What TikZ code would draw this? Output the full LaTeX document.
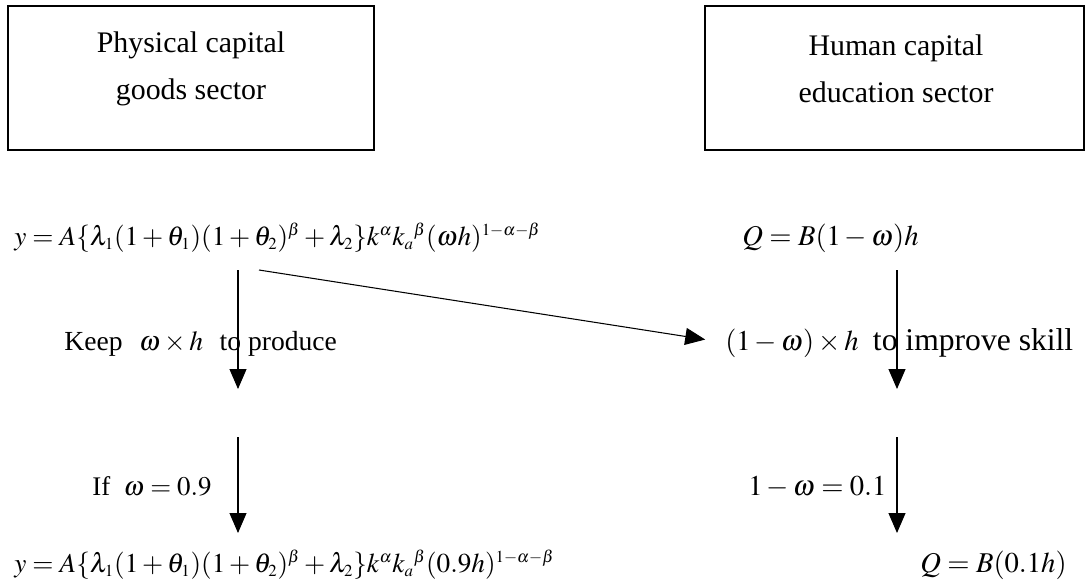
\documentclass[tikz,border=0pt]{standalone}
\usepackage{mathptmx}
\usepackage{fontspec}
\setmainfont{Liberation Serif}
\usetikzlibrary{arrows.meta}
\DeclareMathSizes{15.5}{15.5}{9.6}{7.2}

\begin{document}
\begin{tikzpicture}[x=0.02cm, y=-0.02cm,
		sector/.style={draw, line width=1pt, minimum width=7.32cm, minimum height=2.88cm},
		sectorlbl/.style={align=center, font=\fontsize{17}{27}\selectfont},
		eqn/.style={anchor=base west, inner sep=0pt, font=\fontsize{16.3}{20}\selectfont},
		longeqn/.style={eqn, font=\fontsize{15.5}{19}\selectfont},
		arr/.style={-{Triangle[length=0.4cm, width=0.34cm]}, line width=0.6pt}
		]
		\useasboundingbox (0,0) rectangle (1086,586);

		% Sector boxes
		\node[sector] (phys) at (191,78) {};
		\node[sectorlbl] (physlbl) at (191,69) {Physical capital\\goods sector};
		\node[sector, minimum width=7.58cm] (human) at (894.5,78) {};
		\node[sectorlbl] (humanlbl) at (896,69) {Human capital\\education sector};

		% Production functions
		\node[longeqn] (prodeq) at (14,245) {$y=A\{\lambda_1(1+\theta_1)(1+\theta_2)^{\beta}+\lambda_2\}k^{\alpha}k_a{}^{\beta}(\omega h)^{1-\alpha-\beta}$};
		\node[eqn] (educeq) at (742,245) {$Q=B(1-\omega)h$};

		% Allocation of h
		\node[eqn, font=\fontsize{15.7}{19}\selectfont] (keep) at (64,350) {Keep\hspace{0.6em}$\omega\times h$\hspace{0.6em}to produce};
		\node[eqn] (improve) at (725,350) {$(1-\omega)\times h$\hspace{0.5em}{\fontsize{18}{20}\selectfont to improve skill}};
		\node[eqn, font=\fontsize{15.3}{19}\selectfont] (ifw) at (92,495) {If\hspace{0.5em}$\omega=0.9$};
		\node[eqn] (share) at (748,495) {$1-\omega=0.1$};

		% Results
		\node[longeqn] (prodnew) at (14,572) {$y=A\{\lambda_1(1+\theta_1)(1+\theta_2)^{\beta}+\lambda_2\}k^{\alpha}k_a{}^{\beta}(0.9h)^{1-\alpha-\beta}$};
		\node[eqn] (educnew) at (920,572) {$Q=B(0.1h)$};

		% Arrows
		\coordinate (pa) at (238,270);
		\coordinate (pb) at (238,389);
		\coordinate (pc) at (238,437);
		\coordinate (pd) at (238,533);
		\coordinate (ha) at (897,270);
		\coordinate (hb) at (897,389);
		\coordinate (hc) at (897,437);
		\coordinate (hd) at (897,533);
		\coordinate (da) at (259,270);
		\draw[arr] (pa) -- (pb);
		\draw[arr] (pc) -- (pd);
		\draw[arr] (ha) -- (hb);
		\draw[arr] (hc) -- (hd);
		\draw[arr, shorten >=0.4cm] (da) -- (improve.west);
	\end{tikzpicture}
\end{document}
